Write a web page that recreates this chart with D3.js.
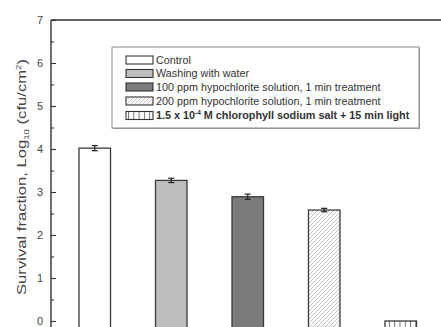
<!DOCTYPE html>
<html>
<head>
<meta charset="utf-8">
<script src="https://cdn.jsdelivr.net/npm/d3@7"></script>
<style>
  html, body { margin: 0; padding: 0; background: #fff; }
  svg { display: block; font-family: "Liberation Sans", Arial, sans-serif; }
</style>
</head>
<body>
<svg id="chart" width="441" height="327"></svg>
<script>
// Treatments and their survival (log10 cfu/cm2) with error half-widths
const treatments = [
  "Control",
  "Washing with water",
  "100 ppm hypochlorite solution, 1 min treatment",
  "200 ppm hypochlorite solution, 1 min treatment",
  "chlorophyll"
];
const survival = [4.02, 3.27, 2.89, 2.58, 0.0];
const errors = [0.06, 0.05, 0.06, 0.04, 0.0];
const yTicks = [0, 1, 2, 3, 4, 5, 6, 7];
const yMinorTicks = [0.5, 1.5, 2.5, 3.5, 4.5, 5.5, 6.5];

const svg = d3.select("#chart");
const defs = svg.append("defs");

// hatch fills
const diag = defs.append("pattern")
  .attr("id", "diag").attr("patternUnits", "userSpaceOnUse")
  .attr("width", 4).attr("height", 4);
diag.append("rect").attr("width", 4).attr("height", 4).attr("fill", "#fff");
diag.append("path").attr("d", "M-1,1 L1,-1 M0,4 L4,0 M3,5 L5,3")
  .attr("stroke", "#b4b4b4").attr("stroke-width", 0.8);

const vert = defs.append("pattern")
  .attr("id", "vert").attr("patternUnits", "userSpaceOnUse")
  .attr("width", 5.3).attr("height", 10).attr("x", 2);
vert.append("rect").attr("width", 5.3).attr("height", 10).attr("fill", "#fff");
vert.append("line").attr("x1", 0.5).attr("x2", 0.5).attr("y1", 0).attr("y2", 10)
  .attr("stroke", "#666").attr("stroke-width", 0.9);

const fills = ["#ffffff", "#bdbdbd", "#7b7b7b", "url(#diag)", "url(#vert)"];

const yAxisX = 51;
const y = d3.scaleLinear().domain([0, 7]).range([321, 20]);
const x = d3.scaleBand().domain(treatments).range([79, 416.5])
  .paddingInner(0.588).paddingOuter(0);

const baseY = y(-0.4);

// top border of the frame
svg.append("line").attr("x1", yAxisX).attr("x2", 441)
  .attr("y1", y(7)).attr("y2", y(7))
  .attr("stroke", "#333").attr("stroke-width", 1.4);

// bars
svg.append("g").selectAll("rect").data(treatments).join("rect")
  .attr("x", d => x(d))
  .attr("width", x.bandwidth())
  .attr("y", (d, i) => y(survival[i]))
  .attr("height", (d, i) => baseY - y(survival[i]))
  .attr("fill", (d, i) => fills[i])
  .attr("stroke", "#3a3a3a").attr("stroke-width", 1.3);

// error bars
const eg = svg.append("g").attr("stroke", "#222").attr("stroke-width", 1.2);
treatments.forEach((d, i) => {
  if (errors[i] <= 0) return;
  const cx = x(d) + x.bandwidth() / 2;
  const y1 = y(survival[i] + errors[i]), y0 = y(survival[i] - errors[i]);
  eg.append("line").attr("x1", cx).attr("x2", cx).attr("y1", y1).attr("y2", y0);
  eg.append("line").attr("x1", cx - 3).attr("x2", cx + 3).attr("y1", y1).attr("y2", y1);
  eg.append("line").attr("x1", cx - 3).attr("x2", cx + 3).attr("y1", y0).attr("y2", y0);
});

// y axis with inward ticks
const yAxis = svg.append("g").attr("transform", `translate(${yAxisX},0)`)
  .call(d3.axisLeft(y).tickValues(yTicks).tickFormat(d3.format("d"))
    .tickSize(-5).tickPadding(8));
yAxis.select(".domain").remove();
yAxis.selectAll(".tick line").attr("stroke", "#333").attr("stroke-width", 1.1);
yAxis.selectAll(".tick text").attr("fill", "#444")
  .style("font-size", "11px").style("font-family", "Liberation Sans, Arial, sans-serif");

const yMinor = svg.append("g").attr("transform", `translate(${yAxisX},0)`)
  .call(d3.axisLeft(y).tickValues(yMinorTicks).tickFormat("").tickSize(-3));
yMinor.select(".domain").remove();
yMinor.selectAll(".tick line").attr("stroke", "#333").attr("stroke-width", 1.1);

svg.append("line").attr("x1", yAxisX).attr("x2", yAxisX)
  .attr("y1", y(7)).attr("y2", 327)
  .attr("stroke", "#333").attr("stroke-width", 1.4);

// y-axis title (stretched along its run)
const yt = svg.append("text")
  .attr("transform", `translate(26,177) rotate(-90) scale(1.28,1)`)
  .attr("text-anchor", "middle")
  .attr("fill", "#444")
  .style("font-size", "13px");
yt.append("tspan").text("Survival fraction, Log");
yt.append("tspan").attr("dy", 3).style("font-size", "7.5px").text("10");
yt.append("tspan").attr("dy", -3).text(" (cfu/cm");
yt.append("tspan").attr("dy", -5).style("font-size", "7.5px").text("2");
yt.append("tspan").attr("dy", 5).text(")");

// legend
const lg = svg.append("g");
lg.append("rect").attr("x", 113).attr("y", 48).attr("width", 307).attr("height", 81)
  .attr("fill", "#a0a0a0");
lg.append("rect").attr("x", 112).attr("y", 47).attr("width", 307).attr("height", 81)
  .attr("fill", "#fff").attr("stroke", "#8a8a8a").attr("stroke-width", 1);

const rowY = [60, 73.5, 87, 101, 115.5];
const legendRows = lg.selectAll("g.row").data(treatments).join("g")
  .attr("class", "row")
  .attr("transform", (d, i) => `translate(126,${rowY[i]})`);
legendRows.append("rect")
  .attr("x", 0).attr("y", -4).attr("width", 27).attr("height", 8)
  .attr("fill", (d, i) => fills[i])
  .attr("stroke", "#333").attr("stroke-width", 1.1);
legendRows.each(function (d, i) {
  const t = d3.select(this).append("text")
    .attr("x", 30).attr("y", 3.8)
    .attr("fill", "#333")
    .style("font-size", "10.8px");
  if (i === 4) {
    t.style("font-weight", "bold");
    t.append("tspan").text("1.5 x 10");
    t.append("tspan").attr("dy", -4).style("font-size", "6.5px").text("-4");
    t.append("tspan").attr("dy", 4).text(" M chlorophyll sodium salt + 15 min light");
  } else {
    t.text(d);
  }
});
</script>
</body>
</html>
